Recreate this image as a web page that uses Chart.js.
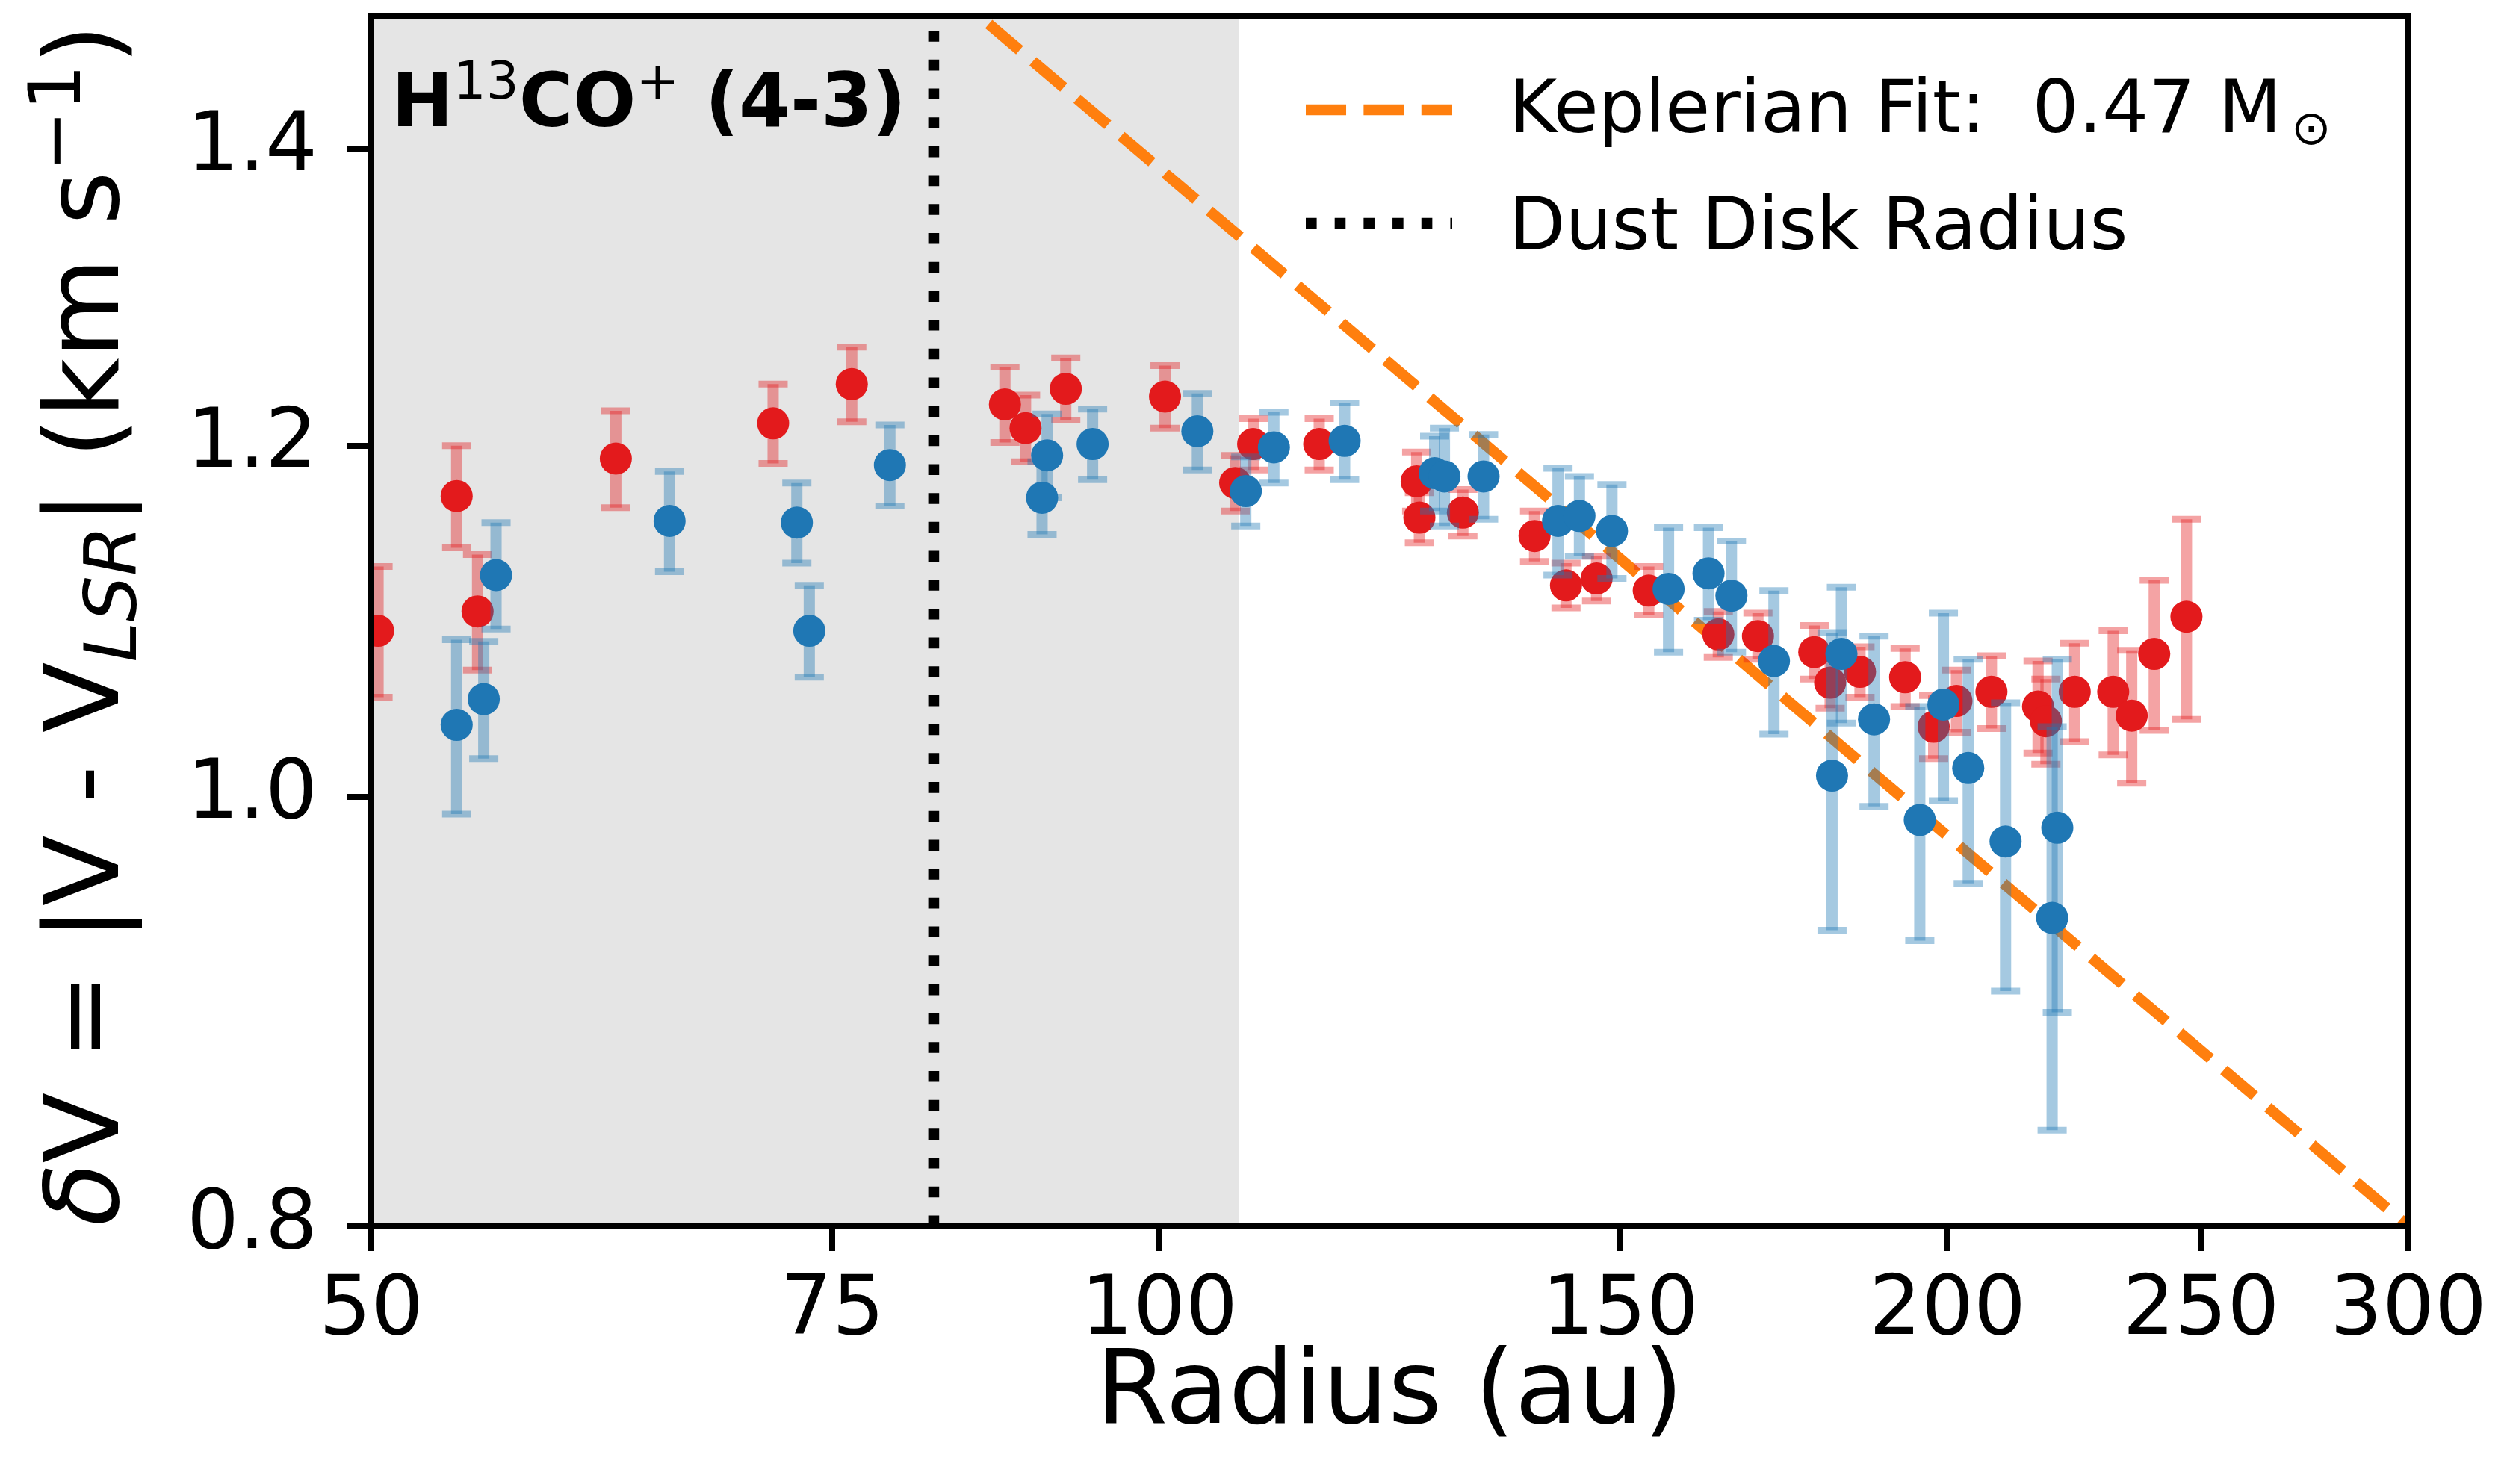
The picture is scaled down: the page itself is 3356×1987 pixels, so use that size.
<!DOCTYPE html>
<html>
<head>
<meta charset="utf-8">
<script src="https://cdn.jsdelivr.net/npm/chart.js@4.4.1/dist/chart.umd.min.js"></script>
<style>
  html, body { margin: 0; padding: 0; background: #fff; }
  canvas { display: block; }
</style>
</head>
<body>
<canvas id="chart" width="3356" height="1987"></canvas>
<script>
// red-shifted side: radius (au), |V - Vlsr| (km/s), 1-sigma error
const redRadius = [50.3, 53.9, 54.9, 62.0, 71.2, 76.3, 87.3, 88.9, 92.1, 100.5, 106.9, 108.6, 115.1, 125.4, 125.7, 130.6, 139.1, 143.0, 146.9, 153.8, 163.5, 169.3, 177.9, 180.4, 185.2, 192.7, 197.6, 201.6, 207.9, 216.6, 218.1, 223.7, 231.4, 235.2, 239.9, 246.8];
const redDv = [1.090, 1.169, 1.101, 1.192, 1.214, 1.239, 1.226, 1.211, 1.236, 1.231, 1.177, 1.201, 1.201, 1.178, 1.156, 1.159, 1.145, 1.116, 1.120, 1.113, 1.088, 1.087, 1.078, 1.061, 1.067, 1.064, 1.037, 1.051, 1.056, 1.048, 1.040, 1.056, 1.056, 1.043, 1.077, 1.098];
const redErr = [0.037, 0.031, 0.033, 0.030, 0.025, 0.024, 0.024, 0.021, 0.020, 0.020, 0.017, 0.016, 0.016, 0.018, 0.015, 0.014, 0.015, 0.013, 0.013, 0.014, 0.013, 0.013, 0.015, 0.014, 0.014, 0.016, 0.017, 0.017, 0.020, 0.025, 0.023, 0.027, 0.034, 0.036, 0.042, 0.057];

// blue-shifted side
const blueRadius = [53.9, 55.2, 55.8, 65.0, 72.7, 73.5, 78.9, 90.2, 90.6, 94.3, 103.4, 107.9, 110.6, 117.7, 127.4, 128.5, 133.0, 142.0, 144.7, 148.9, 156.5, 162.1, 165.4, 171.7, 180.7, 182.2, 187.5, 195.2, 199.3, 203.7, 210.5, 220.3, 219.3];
const blueDv = [1.038, 1.052, 1.122, 1.154, 1.153, 1.090, 1.188, 1.168, 1.194, 1.201, 1.209, 1.172, 1.199, 1.203, 1.183, 1.181, 1.181, 1.154, 1.157, 1.148, 1.114, 1.123, 1.110, 1.073, 1.011, 1.077, 1.041, 0.988, 1.049, 1.015, 0.977, 0.984, 0.939];
const blueErr = [0.047, 0.032, 0.031, 0.030, 0.024, 0.026, 0.025, 0.022, 0.026, 0.022, 0.024, 0.021, 0.022, 0.024, 0.023, 0.030, 0.026, 0.032, 0.024, 0.028, 0.036, 0.027, 0.032, 0.040, 0.078, 0.038, 0.046, 0.060, 0.051, 0.059, 0.073, 0.090, 0.098];

// Keplerian fit, a straight line in log-log: end points
const keplerRadius = [50, 300];
const keplerDv = [1.960, 0.800];

const dustRadius = 82;     // au
const shadeEdge = 107.3;   // au, inner shaded zone
const yMin = 0.8, yMax = 1.5;

const xTicks = [50, 75, 100, 150, 200, 250, 300];
const xTickLabels = ['50', '75', '100', '150', '200', '250', '300'];
const yTicks = [0.8, 1.0, 1.2, 1.4];
const yTickLabels = ['0.8', '1.0', '1.2', '1.4'];

const FONT = 'DejaVu Sans';
const RED = 'rgb(227,26,28)';
const BLUE = 'rgb(31,119,180)';
const ORANGE = '#ff7f0e';
const LW = 14.6;

const errorSets = {
  red: { r: redRadius, v: redDv, e: redErr, color: 'rgba(227,26,28,0.4)' },
  blue: { r: blueRadius, v: blueDv, e: blueErr, color: 'rgba(31,119,180,0.4)' }
};

function pts(xs, ys) { return xs.map((x, i) => ({ x: x, y: ys[i] })); }

// draw a row of text runs (font / vertical shift) starting at x, returns end x
function drawRuns(ctx, runs, x, y, measureOnly) {
  runs.forEach(run => {
    ctx.font = run.font;
    if (!measureOnly) ctx.fillText(run.text, x, y + (run.dy || 0));
    x += ctx.measureText(run.text).width;
  });
  return x;
}

// error bars go under the markers of their own series
const errorBars = {
  id: 'errorBars',
  beforeDatasetDraw(chart, args) {
    const set = errorSets[chart.data.datasets[args.index].label];
    if (!set) return;
    const { ctx, chartArea: a, scales: { x, y } } = chart;
    ctx.save();
    ctx.beginPath();
    ctx.rect(a.left, a.top, a.right - a.left, a.bottom - a.top);
    ctx.clip();
    ctx.strokeStyle = set.color;
    ctx.lineCap = 'butt';
    set.r.forEach((r, i) => {
      const px = x.getPixelForValue(r);
      const lo = y.getPixelForValue(set.v[i] - set.e[i]);
      const hi = y.getPixelForValue(set.v[i] + set.e[i]);
      ctx.lineWidth = 15;
      ctx.beginPath(); ctx.moveTo(px, lo); ctx.lineTo(px, hi); ctx.stroke();
      ctx.lineWidth = 9;
      [lo, hi].forEach(py => {
        ctx.beginPath(); ctx.moveTo(px - 19.5, py); ctx.lineTo(px + 19.5, py); ctx.stroke();
      });
    });
    ctx.restore();
  }
};

// frame, axis titles, legend and the molecule label
const decorations = {
  id: 'decorations',
  afterDraw(chart) {
    const { ctx, chartArea: a } = chart;
    ctx.save();
    ctx.strokeStyle = '#000';
    ctx.lineWidth = 8;
    ctx.setLineDash([]);
    ctx.strokeRect(a.left, a.top, a.right - a.left, a.bottom - a.top);

    ctx.fillStyle = '#000';
    ctx.textBaseline = 'alphabetic';
    ctx.textAlign = 'left';

    const main = `138px "${FONT}"`;

    // x axis title
    ctx.font = main;
    ctx.textAlign = 'center';
    ctx.fillText('Radius (au)', (a.left + a.right) / 2, 1905);
    ctx.textAlign = 'left';

    // y axis title
    const yRuns = [
      { text: 'δ', font: `italic 138px "${FONT}"` },
      { text: 'V = |V - V', font: main },
      { text: 'LSR', font: `italic 97px "${FONT}"`, dy: 24 },
      { text: '| (km s', font: main },
      { text: '−1', font: `97px "${FONT}"`, dy: -51 },
      { text: ')', font: main }
    ];
    const len = drawRuns(ctx, yRuns, 0, 0, true);
    ctx.save();
    ctx.translate(158, 837);
    ctx.rotate(-Math.PI / 2);
    drawRuns(ctx, yRuns, -len / 2, 0);
    ctx.restore();

    // molecule / transition label
    const bold = `bold 99px "${FONT}"`;
    const small = `69px "${FONT}"`;
    drawRuns(ctx, [
      { text: 'H', font: bold },
      { text: '13', font: small, dy: -37 },
      { text: 'CO', font: bold },
      { text: '+', font: small, dy: -37 },
      { text: ' (4-3)', font: bold }
    ], 524, 169);

    // legend
    ctx.lineCap = 'butt';
    ctx.lineWidth = LW;
    ctx.strokeStyle = ORANGE;
    ctx.setLineDash([3.7 * LW, 1.6 * LW]);
    ctx.beginPath(); ctx.moveTo(1748, 147); ctx.lineTo(1944, 147); ctx.stroke();
    ctx.strokeStyle = '#000';
    ctx.setLineDash([LW, 1.65 * LW]);
    ctx.beginPath(); ctx.moveTo(1748, 299); ctx.lineTo(1944, 299); ctx.stroke();
    ctx.setLineDash([]);

    const lf = `98px "${FONT}"`;
    drawRuns(ctx, [{ text: 'Keplerian Fit:  0.47 M', font: lf }], 2020, 177);
    ctx.font = `64px "${FONT}"`;
    const m = ctx.measureText('⊙');
    ctx.fillText('⊙', 3072 + m.actualBoundingBoxLeft,
      172 + (m.actualBoundingBoxAscent - m.actualBoundingBoxDescent) / 2);
    drawRuns(ctx, [{ text: 'Dust Disk Radius', font: lf }], 2020, 334);
    ctx.restore();
  }
};

Chart.defaults.color = '#000';
Chart.defaults.font.family = FONT;

new Chart(document.getElementById('chart'), {
  type: 'scatter',
  data: {
    datasets: [
      {
        label: 'blue',
        data: pts(blueRadius, blueDv),
        pointRadius: 21.5,
        pointBackgroundColor: BLUE,
        pointBorderWidth: 0,
        clip: 0
      },
      {
        label: 'red',
        data: pts(redRadius, redDv),
        pointRadius: 21.5,
        pointBackgroundColor: RED,
        pointBorderWidth: 0,
        clip: 0
      },
      {
        type: 'line',
        label: 'kepler',
        data: pts(keplerRadius, keplerDv),
        borderColor: ORANGE,
        borderWidth: LW,
        borderDash: [3.7 * LW, 1.6 * LW],
        borderCapStyle: 'butt',
        pointRadius: 0,
        fill: false,
        clip: 0
      },
      {
        type: 'line',
        label: 'dust',
        data: [{ x: dustRadius, y: yMin }, { x: dustRadius, y: yMax }],
        borderColor: '#000',
        borderWidth: LW,
        borderDash: [LW, 1.65 * LW],
        borderCapStyle: 'butt',
        pointRadius: 0,
        fill: false,
        clip: 0
      },
      {
        type: 'line',
        label: 'shade',
        data: [{ x: xTicks[0], y: yMax }, { x: shadeEdge, y: yMax }],
        borderColor: 'rgba(0,0,0,0)',
        borderWidth: 0,
        backgroundColor: '#e5e5e5',
        pointRadius: 0,
        fill: 'start',
        clip: 0
      }
    ]
  },
  options: {
    responsive: false,
    devicePixelRatio: 1,
    animation: false,
    events: [],
    layout: { padding: { top: 15, right: 132, left: 0, bottom: 0 } },
    plugins: { legend: { display: false }, tooltip: { enabled: false } },
    scales: {
      x: {
        type: 'logarithmic',
        min: 50,
        max: 300,
        afterBuildTicks: s => { s.ticks = xTicks.map(v => ({ value: v })); },
        afterFit: s => { s.height = 345; s.paddingLeft = 0; s.paddingRight = 0; },
        grid: { drawOnChartArea: false, drawTicks: true, tickLength: 33, lineWidth: 8, color: '#000' },
        border: { display: false },
        ticks: {
          autoSkip: false, maxRotation: 0, padding: 16,
          font: { size: 110, family: FONT }, color: '#000',
          callback: (v, i) => xTickLabels[i]
        }
      },
      y: {
        type: 'logarithmic',
        min: yMin,
        max: yMax,
        afterBuildTicks: s => { s.ticks = yTicks.map(v => ({ value: v })); },
        afterFit: s => { s.width = 497; s.paddingTop = 0; s.paddingBottom = 0; },
        grid: { drawOnChartArea: false, drawTicks: true, tickLength: 33, lineWidth: 8, color: '#000' },
        border: { display: false },
        ticks: {
          autoSkip: false, padding: 39,
          font: { size: 110, family: FONT }, color: '#000',
          callback: (v, i) => yTickLabels[i]
        }
      }
    }
  },
  plugins: [errorBars, decorations]
});
</script>
</body>
</html>
